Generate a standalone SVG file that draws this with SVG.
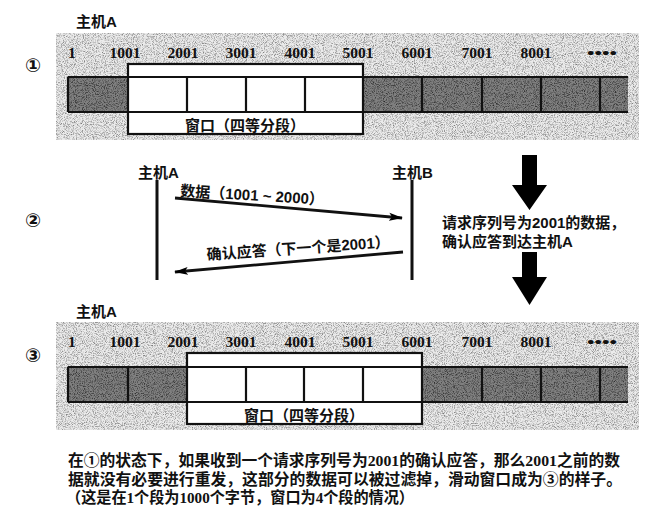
<svg xmlns="http://www.w3.org/2000/svg" width="658" height="518" viewBox="0 0 658 518">
<defs>
<filter id="grain" x="0" y="0" width="100%" height="100%">
<feTurbulence type="fractalNoise" baseFrequency="1.1" numOctaves="2" seed="7" result="t"/>
<feColorMatrix in="t" type="matrix" values="0 0 0 0 0  0 0 0 0 0  0 0 0 0 0  0 0 0 2.2 -0.95" result="n"/>
<feComposite in="n" in2="SourceGraphic" operator="in"/>
</filter>
<marker id="ah" markerUnits="userSpaceOnUse" markerWidth="14" markerHeight="10" refX="13" refY="5" orient="auto">
<path d="M0,1 L14,5 L0,9 L3,5 z" fill="#000"/>
</marker>
<marker id="ahs" markerUnits="userSpaceOnUse" markerWidth="14" markerHeight="10" refX="13" refY="5" orient="auto">
<path d="M0,0.5 L14,5 L0,9.5 z" fill="#000"/>
</marker>
</defs>
<style>
.cj{font-family:"Liberation Sans","Noto Sans CJK SC",sans-serif;font-size:15px;fill:#111;font-weight:bold}
.cap{font-family:"Liberation Serif","Noto Sans CJK SC",serif;font-size:15.5px;fill:#111;font-weight:bold}
.num{font-family:"Liberation Serif",serif;font-size:15.5px;fill:#111;font-weight:bold}
.bg{fill:#ebebeb}
.dk{fill:#808080}
.ln{stroke:#111;stroke-width:2.2;fill:none}
.wb{fill:#fff;stroke:#111;stroke-width:2.2}
.circ{font-family:"DejaVu Sans","Noto Sans CJK SC",sans-serif;font-size:19px;fill:#111;font-weight:bold}
</style>
<rect width="658" height="518" fill="#fff"/>

<g id="panel1">
<rect class="bg" x="56" y="33" width="583" height="107"/>
<rect x="56" y="33" width="583" height="107" fill="#000" opacity="0.5" filter="url(#grain)"/>
<text class="cj" x="76" y="27">主机A</text>
<text class="circ" x="25" y="72">①</text>
<g id="bar1">
<rect class="dk" x="68" y="77" width="60" height="35"/>
<rect class="dk" x="363" y="77" width="265" height="35"/>
<rect x="68" y="77" width="60" height="35" fill="#000" opacity="0.7" filter="url(#grain)"/>
<rect x="363" y="77" width="265" height="35" fill="#000" opacity="0.7" filter="url(#grain)"/>
<path class="ln" d="M68,77 H628 M68,112 H628 M68,77 V112 M422,77 V112 M482,77 V112 M541,77 V112 M600,77 V112"/>
</g>
<g id="window1">
<rect class="wb" x="128" y="64" width="235" height="70"/>
<path class="ln" d="M128,77 H363 M128,112 H363 M187,77 V112 M246,77 V112 M305,77 V112"/>
<text class="cj" x="245" y="131" text-anchor="middle">窗口（四等分段）</text>
</g>
<g id="labels1">
<text class="num" x="68" y="58">1</text>
<text class="num" x="125" y="58" text-anchor="middle">1001</text>
<text class="num" x="183" y="58" text-anchor="middle">2001</text>
<text class="num" x="241" y="58" text-anchor="middle">3001</text>
<text class="num" x="300" y="58" text-anchor="middle">4001</text>
<text class="num" x="358" y="58" text-anchor="middle">5001</text>
<text class="num" x="417" y="58" text-anchor="middle">6001</text>
<text class="num" x="477" y="58" text-anchor="middle">7001</text>
<text class="num" x="536" y="58" text-anchor="middle">8001</text>
<text class="num" x="587" y="58" textLength="30" lengthAdjust="spacingAndGlyphs">••••</text>
</g>
</g>

<g id="panel2">
<text class="circ" x="25" y="227">②</text>
<g id="hostA"><text class="cj" x="138" y="178">主机A</text></g>
<g id="hostB"><text class="cj" x="392" y="178">主机B</text></g>
<text class="cj" x="442" y="228">请求序列号为2001的数据，</text>
<text class="cj" x="442" y="247">确认应答到达主机A</text>
</g>

<g id="connectors">
<path d="M157,180 V280 M412,180 V280" stroke="#111" stroke-width="3" fill="none"/>
<line x1="175" y1="198" x2="402" y2="218" stroke="#111" stroke-width="2.8" marker-end="url(#ah)"/>
<line x1="403" y1="252" x2="175" y2="272" stroke="#111" stroke-width="2.8" marker-end="url(#ah)"/>
<text class="cj" x="180" y="196" transform="rotate(3.5 180 196)">数据（1001 ~ 2000）</text>
<text class="cj" x="207" y="260" transform="rotate(-4 207 260)">确认应答（下一个是2001）</text>
<path d="M522,155 H537 V185 H547 L529.5,210 L512,185 H522 Z" fill="#000"/>
<path d="M522,252 H537 V277 H547 L529.5,305 L512,277 H522 Z" fill="#000"/>
<line x1="143" y1="358" x2="177" y2="358" stroke="#111" stroke-width="3" marker-end="url(#ahs)"/>
<line x1="143" y1="409" x2="177" y2="409" stroke="#111" stroke-width="3" marker-end="url(#ahs)"/>
</g>

<g id="panel3">
<rect class="bg" x="56" y="322" width="583" height="108"/>
<rect x="56" y="322" width="583" height="108" fill="#000" opacity="0.5" filter="url(#grain)"/>
<text class="cj" x="76" y="317">主机A</text>
<text class="circ" x="25" y="362">③</text>
<g id="bar3">
<rect class="dk" x="68" y="367" width="119" height="35"/>
<rect class="dk" x="422" y="367" width="206" height="35"/>
<rect x="68" y="367" width="119" height="35" fill="#000" opacity="0.7" filter="url(#grain)"/>
<rect x="422" y="367" width="206" height="35" fill="#000" opacity="0.7" filter="url(#grain)"/>
<path class="ln" d="M68,367 H628 M68,402 H628 M68,367 V402 M128,367 V402 M482,367 V402 M541,367 V402 M600,367 V402"/>
</g>
<g id="window3">
<rect class="wb" x="187" y="353" width="235" height="71"/>
<path class="ln" d="M187,367 H422 M187,402 H422 M246,367 V402 M304,367 V402 M363,367 V402"/>
<text class="cj" x="304" y="421" text-anchor="middle">窗口（四等分段）</text>
</g>
<g id="labels3">
<text class="num" x="68" y="347">1</text>
<text class="num" x="125" y="347" text-anchor="middle">1001</text>
<text class="num" x="183" y="347" text-anchor="middle">2001</text>
<text class="num" x="241" y="347" text-anchor="middle">3001</text>
<text class="num" x="300" y="347" text-anchor="middle">4001</text>
<text class="num" x="358" y="347" text-anchor="middle">5001</text>
<text class="num" x="417" y="347" text-anchor="middle">6001</text>
<text class="num" x="477" y="347" text-anchor="middle">7001</text>
<text class="num" x="536" y="347" text-anchor="middle">8001</text>
<text class="num" x="587" y="347" textLength="30" lengthAdjust="spacingAndGlyphs">••••</text>
</g>
</g>

<g id="caption">
<text class="cap" x="68" y="466" textLength="552" lengthAdjust="spacingAndGlyphs">在①的状态下，如果收到一个请求序列号为2001的确认应答，那么2001之前的数</text>
<text class="cap" x="68" y="485" textLength="554" lengthAdjust="spacingAndGlyphs">据就没有必要进行重发，这部分的数据可以被过滤掉，滑动窗口成为③的样子。</text>
<text class="cap" x="66" y="503" textLength="348" lengthAdjust="spacingAndGlyphs">（这是在1个段为1000个字节，窗口为4个段的情况）</text>
</g>
</svg>
